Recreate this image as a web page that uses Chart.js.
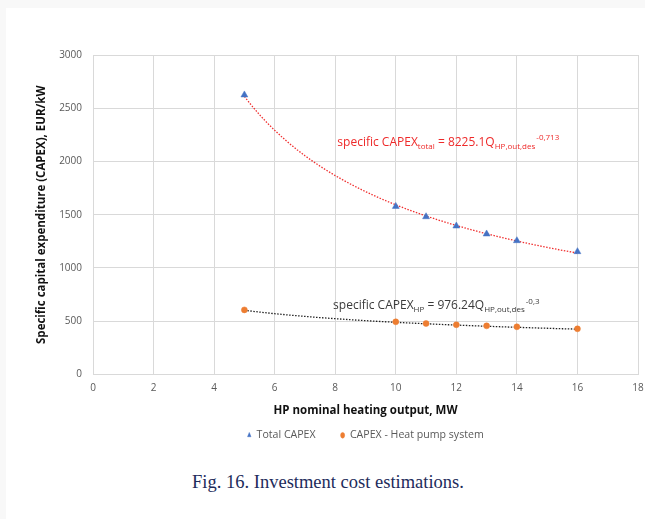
<!DOCTYPE html>
<html>
<head>
<meta charset="utf-8">
<script src="https://cdn.jsdelivr.net/npm/chart.js@4"></script>
<style>
  html, body { margin: 0; padding: 0; background: #f8f8f8; }
  body { width: 645px; height: 519px; position: relative; overflow: hidden; }
  #panel { position: absolute; left: 6px; top: 8px; width: 639px; height: 511px; background: #ffffff; }
  #wrap { position: absolute; left: 0; top: 0; width: 645px; height: 470px; }
  #caption { position: absolute; left: 0; width: 656px; top: 472px; text-align: center;
    font-family: "Liberation Serif", "DejaVu Serif", serif; font-size: 18.5px; color: #1d2b5b; }
</style>
</head>
<body>
<div id="panel"></div>
<div id="wrap"><canvas id="c" width="645" height="470"></canvas></div>
<div id="caption">Fig. 16. Investment cost estimations.</div>
<script>
// ---- data ----
const outputMW = [5, 10, 11, 12, 13, 14, 16];
const totalCapex = [2625, 1578, 1481, 1394, 1319, 1256, 1153];
const hpCapex = [606, 494, 478, 466, 456, 447, 428];
const xTicks = [0, 2, 4, 6, 8, 10, 12, 14, 16, 18];
const yTicks = [0, 500, 1000, 1500, 2000, 2500, 3000];
const seriesNames = ['Total CAPEX', 'CAPEX - Heat pump system'];
const xTitle = 'HP nominal heating output, MW';
const yTitle = 'Specific capital expenditure (CAPEX), EUR/kW';
// power trendlines as printed on the chart: y = a * x^b
const trendCoef = [8225.1, 976.24];
const trendExp = [-0.713, -0.3];
const trendRange = [5, 16];

const toPts = (xs, ys) => xs.map((x, i) => ({x: x, y: ys[i]}));
function trendPts(k) {
  const pts = [];
  for (let x = trendRange[0]; x <= trendRange[1] + 1e-9; x += 0.25) {
    pts.push({x: x, y: trendCoef[k] * Math.pow(x, trendExp[k])});
  }
  return pts;
}

const FONT = '"Open Sans", "Liberation Sans", sans-serif';

// annotation plugin: rich text with sub/superscripts anchored in data coords
const eqPlugin = {
  id: 'eq',
  afterLayout(chart) {
    const lg = chart.legend;
    if (lg) { const dy = 405 - lg.top; lg.top += dy; lg.bottom += dy; }
  },
  afterDatasetsDraw(chart) {
    const ctx = chart.ctx, xs = chart.scales.x, ys = chart.scales.y;
    const items = [
      {x: 8.07, y: 2146, color: '#ee2a2a', parts: [
        ['n', 'specific CAPEX'], ['sub', 'total'], ['n', ' = 8225.1Q'], ['sub', 'HP,out,des'], ['sup', '-0,713']]},
      {x: 7.93, y: 612, color: '#3a3a3a', parts: [
        ['n', 'specific CAPEX'], ['sub', 'HP'], ['n', ' = 976.24Q'], ['sub', 'HP,out,des'], ['sup', '-0,3']]}
    ];
    ctx.save();
    ctx.textBaseline = 'alphabetic';
    items.forEach(it => {
      let px = xs.getPixelForValue(it.x);
      const py = ys.getPixelForValue(it.y);
      ctx.fillStyle = it.color;
      it.parts.forEach(([kind, txt]) => {
        let size = 12, dy = 0;
        if (kind === 'sub') { size = 8; dy = 3; }
        if (kind === 'sup') { size = 8; dy = -5.5; px += 1; }
        ctx.font = size + 'px ' + FONT;
        ctx.fillText(txt, px, py + dy);
        px += ctx.measureText(txt).width;
      });
    });
    ctx.restore();
  }
};

new Chart(document.getElementById('c'), {
  type: 'scatter',
  data: {
    datasets: [
      {
        label: seriesNames[0] + ' trend', data: trendPts(0),
        showLine: true, borderColor: '#f03030', borderWidth: 1.3, borderDash: [1.5, 1.5],
        pointRadius: 0, pointHoverRadius: 0, order: 3
      },
      {
        label: seriesNames[1] + ' trend', data: trendPts(1),
        showLine: true, borderColor: '#222222', borderWidth: 1.3, borderDash: [1.5, 1.5],
        pointRadius: 0, pointHoverRadius: 0, order: 3
      },
      {
        label: seriesNames[0], data: toPts(outputMW, totalCapex),
        pointStyle: 'triangle', pointRadius: 4, borderWidth: 0.5,
        backgroundColor: '#4472c4', borderColor: '#4472c4', order: 1
      },
      {
        label: seriesNames[1], data: toPts(outputMW, hpCapex),
        pointStyle: 'circle', pointRadius: 3, borderWidth: 0.5,
        backgroundColor: '#ed7d31', borderColor: '#ed7d31', order: 1
      }
    ]
  },
  options: {
    responsive: false,
    animation: false,
    layout: { padding: { top: 55, right: 7, left: 0, bottom: 5 } },
    plugins: {
      tooltip: { enabled: false },
      legend: {
        position: 'bottom',
        fullSize: false,
        labels: {
          filter: (item) => !item.text.endsWith(' trend'),
          usePointStyle: true, boxWidth: 4, boxHeight: 4, pointStyleWidth: 4,
          color: '#595959', font: { family: FONT, size: 10.6 }, padding: 25
        }
      }
    },
    scales: {
      x: {
        type: 'linear', min: 0, max: 18,
        afterBuildTicks: (s) => { s.ticks = xTicks.map(v => ({value: v})); },
        afterFit: (s) => { s.height = 45; s.paddingLeft = 0; s.paddingRight = 0; },
        ticks: { color: '#595959', font: { family: FONT, size: 10 }, padding: 8, maxRotation: 0 },
        grid: { color: '#d9d9d9', lineWidth: 1, drawTicks: false },
        border: { color: '#d9d9d9' },
        title: { display: true, text: xTitle, color: '#111111',
          font: { family: FONT, size: 11.5, weight: 'bold' }, padding: { top: 8, bottom: 2 } }
      },
      y: {
        min: 0, max: 3000,
        afterBuildTicks: (s) => { s.ticks = yTicks.map(v => ({value: v})); },
        afterFit: (s) => { s.width = 93; s.paddingTop = 0; s.paddingBottom = 0; },
        ticks: { color: '#595959', font: { family: FONT, size: 10 }, padding: 11,
          callback: (v) => String(v) },
        grid: { color: '#d9d9d9', lineWidth: 1, drawTicks: false },
        border: { color: '#d9d9d9' },
        title: { display: true, text: yTitle, color: '#111111',
          font: { family: FONT, size: 11.5, weight: 'bold' }, padding: { top: 35, bottom: 0 } }
      }
    }
  },
  plugins: [eqPlugin]
});
</script>
</body>
</html>
